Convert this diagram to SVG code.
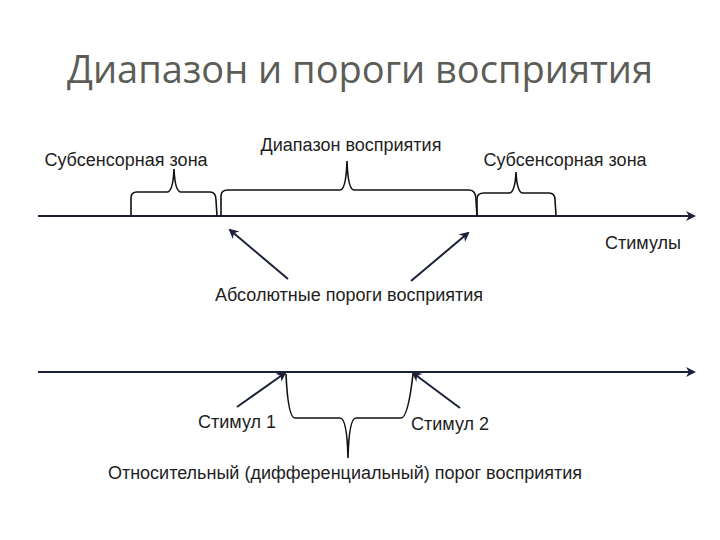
<svg xmlns="http://www.w3.org/2000/svg" width="720" height="540" viewBox="0 0 720 540">
<style>
.t{font-family:"Liberation Sans",Arial,sans-serif;font-size:18px;fill:#1e1e1e}
.title{font-family:"Open Sans","Liberation Sans",sans-serif;font-size:38px;fill:#5d5d58}
.axis{stroke:#1c2238;stroke-width:2;fill:none}
.br{stroke:#111;stroke-width:1.6;fill:none}
.ar{stroke:#1c2238;stroke-width:2;fill:none}
</style>
<defs>
<marker id="ah" markerWidth="10" markerHeight="10" refX="8" refY="5" orient="auto" markerUnits="userSpaceOnUse">
<path d="M0,0 L10,5 L0,10 L3,5 Z" fill="#1c2238"/>
</marker>
</defs>
<rect width="720" height="540" fill="#fff"/>
<text class="title" x="360" y="83" text-anchor="middle">Диапазон и пороги восприятия</text>
<g id="connectors">
<path class="axis" d="M38,216 L694,216" marker-end="url(#ah)"/>
<path class="axis" d="M38,372 L694,372" marker-end="url(#ah)"/>
<path class="ar" d="M288,279 L230,230" marker-end="url(#ah)"/>
<path class="ar" d="M411,281 L468,233" marker-end="url(#ah)"/>
<path class="ar" d="M237,407 L285,373" marker-end="url(#ah)"/>
<path class="ar" d="M460,408 L413,373" marker-end="url(#ah)"/>
</g>
<g id="brace-sub-left">
<path class="br" d="M131,215 L131,198 Q131,192 137,192 L167,192 Q173,192 174,169 Q175,192 181,192 L210,192 Q216,192 216,200 L217,216"/>
<text class="t" x="126" y="166" text-anchor="middle">Субсенсорная зона</text>
</g>
<g id="brace-range">
<path class="br" d="M221,216 L221,196 Q221,190 228,190 L340,190 Q346,190 347,161 Q348,190 354,190 L469,190 Q476,190 476,200 L477,216"/>
<text class="t" x="351" y="151" text-anchor="middle">Диапазон восприятия</text>
</g>
<g id="brace-sub-right">
<path class="br" d="M477,216 L477,199 Q477,193 484,193 L509,193 Q515,193 516,172 Q517,193 523,193 L549,193 Q555,193 555,200 L556,215"/>
<text class="t" x="565" y="166" text-anchor="middle">Субсенсорная зона</text>
</g>
<g id="label-stimuli">
<text class="t" x="643" y="249" text-anchor="middle">Стимулы</text>
</g>
<g id="label-abs">
<text class="t" x="349" y="301" text-anchor="middle">Абсолютные пороги восприятия</text>
</g>
<g id="stimulus-1">
<text class="t" x="237" y="428" text-anchor="middle">Стимул 1</text>
</g>
<g id="stimulus-2">
<text class="t" x="450" y="430" text-anchor="middle">Стимул 2</text>
</g>
<g id="brace-diff">
<path class="br" d="M286,374 Q288,418 295,418 L340,418 Q347,418 348,458 Q349,418 356,418 L401,418 Q408,418 413,374"/>
<text class="t" x="345" y="479" text-anchor="middle">Относительный (дифференциальный) порог восприятия</text>
</g>
</svg>
